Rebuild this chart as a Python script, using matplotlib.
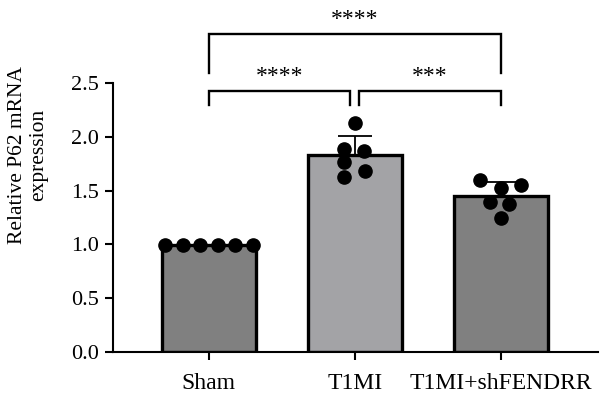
import numpy as np
import matplotlib.pyplot as plt

plt.rcParams['font.family'] = ['Liberation Serif', 'DejaVu Serif']

groups = ["Sham", "T1MI", "T1MI+shFENDRR"]
sham = [0.99, 0.99, 0.99, 0.99, 0.99, 0.99]
t1mi = [2.13, 1.89, 1.87, 1.77, 1.68, 1.63]
t1mi_sh = [1.60, 1.52, 1.55, 1.39, 1.38, 1.25]
points = [sham, t1mi, t1mi_sh]
bar_colors = ["#808080", "#a3a3a6", "#808080"]
# pairs + labels for significance brackets
comparisons = [(0, 1, "****"), (1, 2, "***"), (0, 2, "****")]

# horizontal spread of the dots (layout only)
jitter = [
    [-0.30, -0.18, -0.06, 0.06, 0.18, 0.30],
    [0.0, -0.075, 0.06, -0.075, 0.07, -0.075],
    [-0.14, 0.0, 0.14, -0.075, 0.06, 0.0],
]

means = [np.mean(p) for p in points]
sds = [np.std(p, ddof=1) for p in points]
x = np.arange(len(groups))

fig = plt.figure(figsize=(6, 4), dpi=100)
ax = fig.add_axes([0.188, 0.12, 0.808, 0.6725])

ax.bar(x, means, width=0.644, color=bar_colors, edgecolor="black", linewidth=2.4, zorder=2)
ax.errorbar(x, means, yerr=[np.zeros(3), sds], fmt="none", ecolor="black",
            elinewidth=1.3, capsize=12, capthick=1.3, zorder=3)
for i, p in enumerate(points):
    ax.plot(x[i] + np.array(jitter[i]), p, "o", color="black", markersize=9.5, zorder=4)

# brackets
def bracket(a, b, y, text, y_leg):
    ax.plot([a, a, b, b], [y_leg, y, y, y_leg], color="black", lw=1.7, clip_on=False,
            solid_joinstyle="miter")
    ax.text((a + b) / 2, y + 0.03, text, ha="center", va="bottom", fontsize=17, clip_on=False)

bracket(comparisons[0][0], comparisons[0][1] - 0.03, 2.43, comparisons[0][2], 2.30)
bracket(comparisons[1][0] + 0.03, comparisons[1][1], 2.43, comparisons[1][2], 2.30)
bracket(comparisons[2][0], comparisons[2][1], 2.96, comparisons[2][2], 2.59)

ax.set_xlim(-0.658, 2.664)
ax.set_ylim(0, 2.5)
ax.set_yticks([0, 0.5, 1.0, 1.5, 2.0, 2.5])
ax.set_yticklabels(["0.0", "0.5", "1.0", "1.5", "2.0", "2.5"])
ax.set_xticks(x)
ax.set_xticklabels(groups)
ax.tick_params(axis="both", labelsize=16, width=1.5, length=6, pad=4)
ax.tick_params(axis="x", labelsize=17, pad=9)
for s in ["top", "right"]:
    ax.spines[s].set_visible(False)
for s in ["left", "bottom"]:
    ax.spines[s].set_linewidth(1.5)

fig.text(28 / 600, 1 - 155 / 400, "Relative P62 mRNA\nexpression", rotation=90,
         ha="center", va="center", fontsize=15.5, linespacing=1.2)

fig.savefig("out.png", dpi=100)
